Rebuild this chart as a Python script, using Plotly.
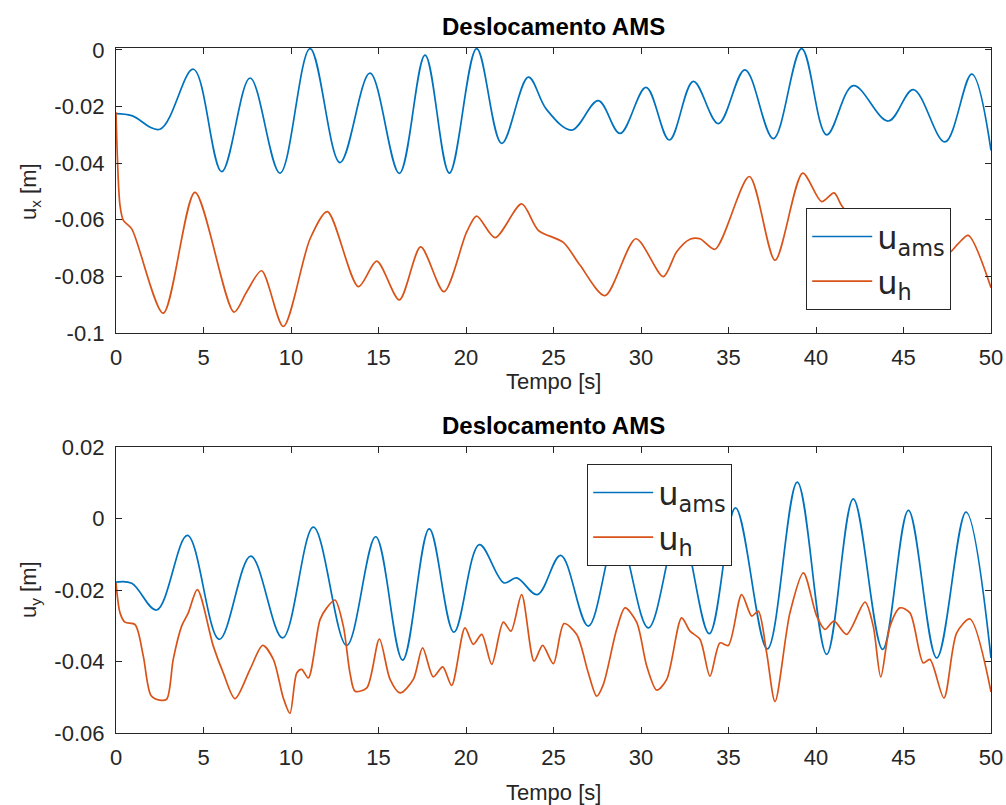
import plotly.graph_objects as go

# ---------------- data ----------------
tx_ams = [0, 0.9, 2.51, 4.42, 6.04, 7.66, 9.37, 11.09, 12.8, 14.51, 16.19, 17.66, 19.05,
          20.61, 22.04, 23.56, 24.6, 26.04, 27.56, 28.8, 30.29, 31.62, 32.99, 34.42,
          35.94, 37.56, 39.18, 40.61, 42.13, 44.13, 45.56, 47.37, 48.9, 50]
ux_ams = [-0.0225, -0.0232, -0.028, -0.0068, -0.043, -0.0099, -0.0435, 0.0005, -0.0398,
          -0.0082, -0.0436, -0.0018, -0.0435, 0.0005, -0.033, -0.0096, -0.021, -0.0283,
          -0.0179, -0.0295, -0.0132, -0.0318, -0.0111, -0.026, -0.007, -0.0313, 0.0005,
          -0.030, -0.0126, -0.0251, -0.014, -0.0325, -0.0085, -0.0355]

tx_h = [0, 0.23, 0.42, 0.9, 2.7, 4.51, 6.74, 7.47, 8.32, 9.56, 11.09, 12.08, 13.85, 14.9,
        16.19, 17.41, 18.74, 20.04, 20.61, 21.66, 23.18, 24.13, 25.56, 26.51, 27.94,
        29.71, 31.27, 32.04, 32.8, 33.37, 34.23, 36.19, 37.66, 39.24, 40.32, 41.03,
        41.47, 43.0, 44.6, 46.3, 47.5, 48.13, 48.7, 50]
ux_h = [-0.022, -0.055, -0.0602, -0.0632, -0.093, -0.0503, -0.0926, -0.0854, -0.078,
        -0.0977, -0.0667, -0.0571, -0.0836, -0.0746, -0.0883, -0.0696, -0.0854, -0.0643,
        -0.0587, -0.0663, -0.0544, -0.0637, -0.068, -0.076, -0.0868, -0.0667, -0.0801,
        -0.0713, -0.0669, -0.0667, -0.0704, -0.0447, -0.0743, -0.0435, -0.0536, -0.0505,
        -0.055, -0.066, -0.074, -0.066, -0.072, -0.0684, -0.0655, -0.0840]

ty_ams = [0, 0.9, 2.32, 4.08, 5.9, 7.7, 9.52, 11.28, 13.18, 14.84, 16.38, 17.9, 19.31,
          20.76, 22.17, 22.9, 24.08, 25.41, 26.99, 28.65, 30.42, 32.2, 33.9, 35.4, 37.22,
          38.93, 40.61, 42.13, 43.81, 45.28, 46.9, 48.57, 50]
uy_ams = [-0.0178, -0.0181, -0.0256, -0.0047, -0.0338, -0.0105, -0.0334, -0.0024, -0.0355,
          -0.0051, -0.0396, -0.0029, -0.0318, -0.0073, -0.018, -0.0166, -0.0213, -0.0103,
          -0.0301, -0.004, -0.0306, -0.002, -0.0322, 0.003, -0.0365, 0.0102, -0.038,
          0.0055, -0.0366, 0.0023, -0.039, 0.0018, -0.039]

ty_h = [0, 0.23, 0.51, 1.09, 1.56, 2.0, 2.5, 2.9, 3.27, 3.75, 4.13, 4.65, 5.56, 6.13, 6.8,
        7.66, 8.38, 8.99, 9.56, 9.94, 10.33, 10.61, 10.99, 11.66, 12.04, 12.51, 12.99,
        13.37, 13.66, 14.33, 15.05, 15.66, 16.23, 16.99, 17.52, 18.13, 18.67, 19.18,
        19.94, 20.42, 20.9, 21.47, 22.13, 22.57, 23.18, 23.89, 24.38, 24.99, 25.6, 26.32,
        26.99, 27.47, 27.85, 28.61, 29.09, 29.75, 30.33, 30.9, 31.47, 32.32, 32.8, 33.37,
        33.94, 34.51, 34.99, 35.75, 36.33, 36.7, 37.18, 37.66, 38.51, 39.28, 40.04, 40.51,
        41.03, 41.75, 42.8, 43.27, 43.7, 44.23, 44.8, 45.37, 46.13, 46.51, 47.31, 48.04,
        48.8, 50]
uy_h = [-0.018, -0.0264, -0.029, -0.0297, -0.0385, -0.0495, -0.0508, -0.0505, -0.0394,
        -0.0301, -0.0264, -0.0199, -0.0357, -0.0432, -0.0504, -0.0422, -0.0355, -0.0394,
        -0.0502, -0.0545, -0.0432, -0.0422, -0.0446, -0.0283, -0.025, -0.0228, -0.0301,
        -0.0432, -0.0483, -0.0474, -0.0337, -0.045, -0.0488, -0.045, -0.0362, -0.0443,
        -0.0415, -0.0467, -0.0306, -0.0352, -0.0324, -0.0408, -0.029, -0.0315, -0.0213,
        -0.0399, -0.0355, -0.0406, -0.0294, -0.0324, -0.0432, -0.0497, -0.0464, -0.031,
        -0.025, -0.029, -0.0413, -0.048, -0.045, -0.0278, -0.0315, -0.0338, -0.0441,
        -0.0348, -0.0355, -0.0213, -0.0273, -0.0259, -0.0376, -0.0512, -0.0264, -0.0152,
        -0.0273, -0.031, -0.0287, -0.0324, -0.0234, -0.0301, -0.0443, -0.0301, -0.025,
        -0.0264, -0.0404, -0.0394, -0.0502, -0.032, -0.0281, -0.0485]

x_ticks = [0, 5, 10, 15, 20, 25, 30, 35, 40, 45, 50]
y1_ticks = [-0.1, -0.08, -0.06, -0.04, -0.02, 0]
y1_labels = ["-0.1", "-0.08", "-0.06", "-0.04", "-0.02", "0"]
y2_ticks = [-0.06, -0.04, -0.02, 0, 0.02]
y2_labels = ["-0.06", "-0.04", "-0.02", "0", "0.02"]

title_text = "Deslocamento AMS"
x_title = "Tempo [s]"
names = ["u<sub>ams</sub>", "u<sub>h</sub>"]

# ---------------- styling ----------------
BLUE = "#0072BD"
ORANGE = "#D95319"
AX = "#262626"
W, H = 1006, 805
FONT = "Liberation Sans, Arial, sans-serif"

fig = go.Figure()
fig.add_trace(go.Scatter(x=tx_ams, y=ux_ams, name=names[0], mode="lines",
                         line=dict(color=BLUE, width=1.7, shape="spline", smoothing=1.0),
                         xaxis="x", yaxis="y", legend="legend"))
fig.add_trace(go.Scatter(x=tx_h, y=ux_h, name=names[1], mode="lines",
                         line=dict(color=ORANGE, width=1.7, shape="spline", smoothing=0.8),
                         xaxis="x", yaxis="y", legend="legend"))
fig.add_trace(go.Scatter(x=ty_ams, y=uy_ams, name=names[0], mode="lines",
                         line=dict(color=BLUE, width=1.7, shape="spline", smoothing=1.0),
                         xaxis="x2", yaxis="y2", legend="legend2"))
fig.add_trace(go.Scatter(x=ty_h, y=uy_h, name=names[1], mode="lines",
                         line=dict(color=ORANGE, width=1.7, shape="spline", smoothing=0.8),
                         xaxis="x2", yaxis="y2", legend="legend2"))

def px_x(p):
    return p / W

def px_y(p):
    return 1 - p / H

common_axis = dict(showline=True, linecolor=AX, linewidth=1.2, mirror="allticks",
                   ticks="inside", ticklen=6, tickcolor=AX, tickwidth=1.2,
                   showgrid=False, zeroline=False, automargin=False,
                   tickfont=dict(family=FONT, size=22, color=AX))

x_dom = [px_x(116), px_x(991)]
legend_style = dict(xanchor="left", yanchor="top", bgcolor="white", bordercolor=AX,
                    borderwidth=1.2,
                    font=dict(family="DejaVu Sans, sans-serif", size=32, color=AX),
                    itemwidth=60, tracegroupgap=0)
fig.update_layout(
    template="none",
    width=W, height=H,
    margin=dict(l=0, r=0, t=0, b=0, pad=0, autoexpand=False),
    paper_bgcolor="white", plot_bgcolor="white",
    showlegend=True,
    xaxis=dict(domain=x_dom, range=[0, 50], tickvals=x_ticks, anchor="y",
               ticklabelstandoff=4, **common_axis),
    yaxis=dict(domain=[px_y(333), px_y(48)], range=[-0.1, 0.0007], tickvals=y1_ticks,
               ticktext=y1_labels, anchor="x", ticklabelstandoff=6, **common_axis),
    xaxis2=dict(domain=x_dom, range=[0, 50], tickvals=x_ticks, anchor="y2",
                ticklabelstandoff=4, **common_axis),
    yaxis2=dict(domain=[px_y(733), px_y(447)], range=[-0.06, 0.02], tickvals=y2_ticks,
                ticktext=y2_labels, anchor="x2", ticklabelstandoff=6, **common_axis),
    legend=dict(x=px_x(806), y=px_y(208), **legend_style),
    legend2=dict(x=px_x(587), y=px_y(464), **legend_style),
)

ann = []
for yc in (27, 425):
    ann.append(dict(text="<b>" + title_text + "</b>", x=px_x(553), y=px_y(yc), xref="paper",
                    yref="paper", xanchor="center", yanchor="middle", showarrow=False,
                    font=dict(family=FONT, size=24, color="black")))
for yc in (381, 792):
    ann.append(dict(text=x_title, x=px_x(553), y=px_y(yc), xref="paper", yref="paper",
                    xanchor="center", yanchor="middle", showarrow=False,
                    font=dict(family=FONT, size=22, color=AX)))
for yc, lab in ((192, "u<sub>x</sub> [m]"), (590, "u<sub>y</sub> [m]")):
    ann.append(dict(text=lab, x=px_x(30), y=px_y(yc), xref="paper", yref="paper",
                    xanchor="center", yanchor="middle", showarrow=False, textangle=-90,
                    font=dict(family=FONT, size=22, color=AX)))
fig.update_layout(annotations=ann)

fig.write_html("out.html",
               config={"displayModeBar": False},
               post_script="document.body.style.margin='0px';"
                           "document.body.style.overflow='hidden';")
